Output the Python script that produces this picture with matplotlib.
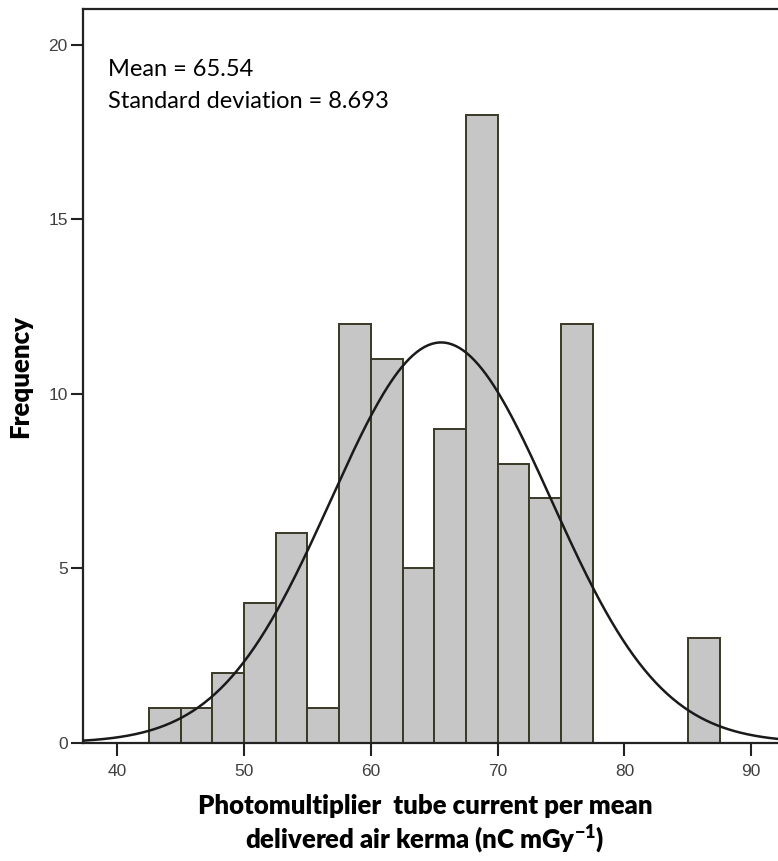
import numpy as np
import matplotlib.pyplot as plt

plt.rcParams['font.family'] = 'Liberation Sans'
plt.rcParams['mathtext.fontset'] = 'custom'
plt.rcParams['mathtext.rm'] = 'Lato:bold'
plt.rcParams['mathtext.default'] = 'regular'

# histogram bins (left edges, width 2.5) and counts
bin_left = [42.5, 45.0, 47.5, 50.0, 52.5, 55.0, 57.5, 60.0, 62.5, 65.0,
            67.5, 70.0, 72.5, 75.0, 77.5, 80.0, 82.5, 85.0]
counts = [1, 1, 2, 4, 6, 1, 12, 11, 5, 9, 18, 8, 7, 12, 0, 0, 0, 3]
bin_width = 2.5
mean_val = 65.54
sd_val = 8.693
x_ticks = [40, 50, 60, 70, 80, 90]
y_ticks = [0, 5, 10, 15, 20]

fig = plt.figure(figsize=(7.78, 8.61), dpi=100)
ax = fig.add_axes([0.1067, 0.1374, 0.95, 0.8521])

ax.bar(bin_left, counts, width=bin_width, align='edge',
       color='#c6c6c6', edgecolor='#3a3826', linewidth=1.4, zorder=2)

# fitted normal curve
n_total = sum(counts)
xs = np.linspace(37.3, 96, 400)
ys = n_total * bin_width / (sd_val * np.sqrt(2 * np.pi)) * np.exp(-0.5 * ((xs - mean_val) / sd_val) ** 2)
ax.plot(xs, ys, color='#1a1a1a', linewidth=1.8, zorder=3)

ax.set_xlim(37.3, 37.3 + 0.95 * 778 / 12.68)
ax.set_ylim(0, 21.03)
ax.set_xticks(x_ticks)
ax.set_yticks(y_ticks)
ax.tick_params(axis='both', direction='out', length=9, width=1.5,
               labelsize=12.5, labelcolor='#404040', color='#222222')
ax.tick_params(axis='x', pad=6)
ax.tick_params(axis='y', pad=2)
for s in ['left', 'top', 'bottom']:
    ax.spines[s].set_linewidth(1.6)
    ax.spines[s].set_color('#222222')
ax.spines['right'].set_visible(False)

fig.text(108 / 778, 1 - 70 / 861, 'Mean = 65.54', fontsize=17, family='Lato',
         va='center', ha='left')
fig.text(108 / 778, 1 - 101 / 861, 'Standard deviation = 8.693', fontsize=17,
         family='Lato', va='center', ha='left')

fig.text(425 / 778, 1 - 806 / 861, 'Photomultiplier  tube current per mean',
         fontsize=18.5, family='Lato', weight='heavy', ha='center', va='center')
fig.text(425 / 778, 1 - 840 / 861, 'delivered air kerma (nC mGy$^{-1}$)',
         fontsize=18.5, family='Lato', weight='heavy', ha='center', va='center')
fig.text(20 / 778, 1 - 377 / 861, 'Frequency', fontsize=18.5, family='Lato',
         weight='heavy', rotation=90, ha='center', va='center')

fig.savefig('out.png', dpi=100)
